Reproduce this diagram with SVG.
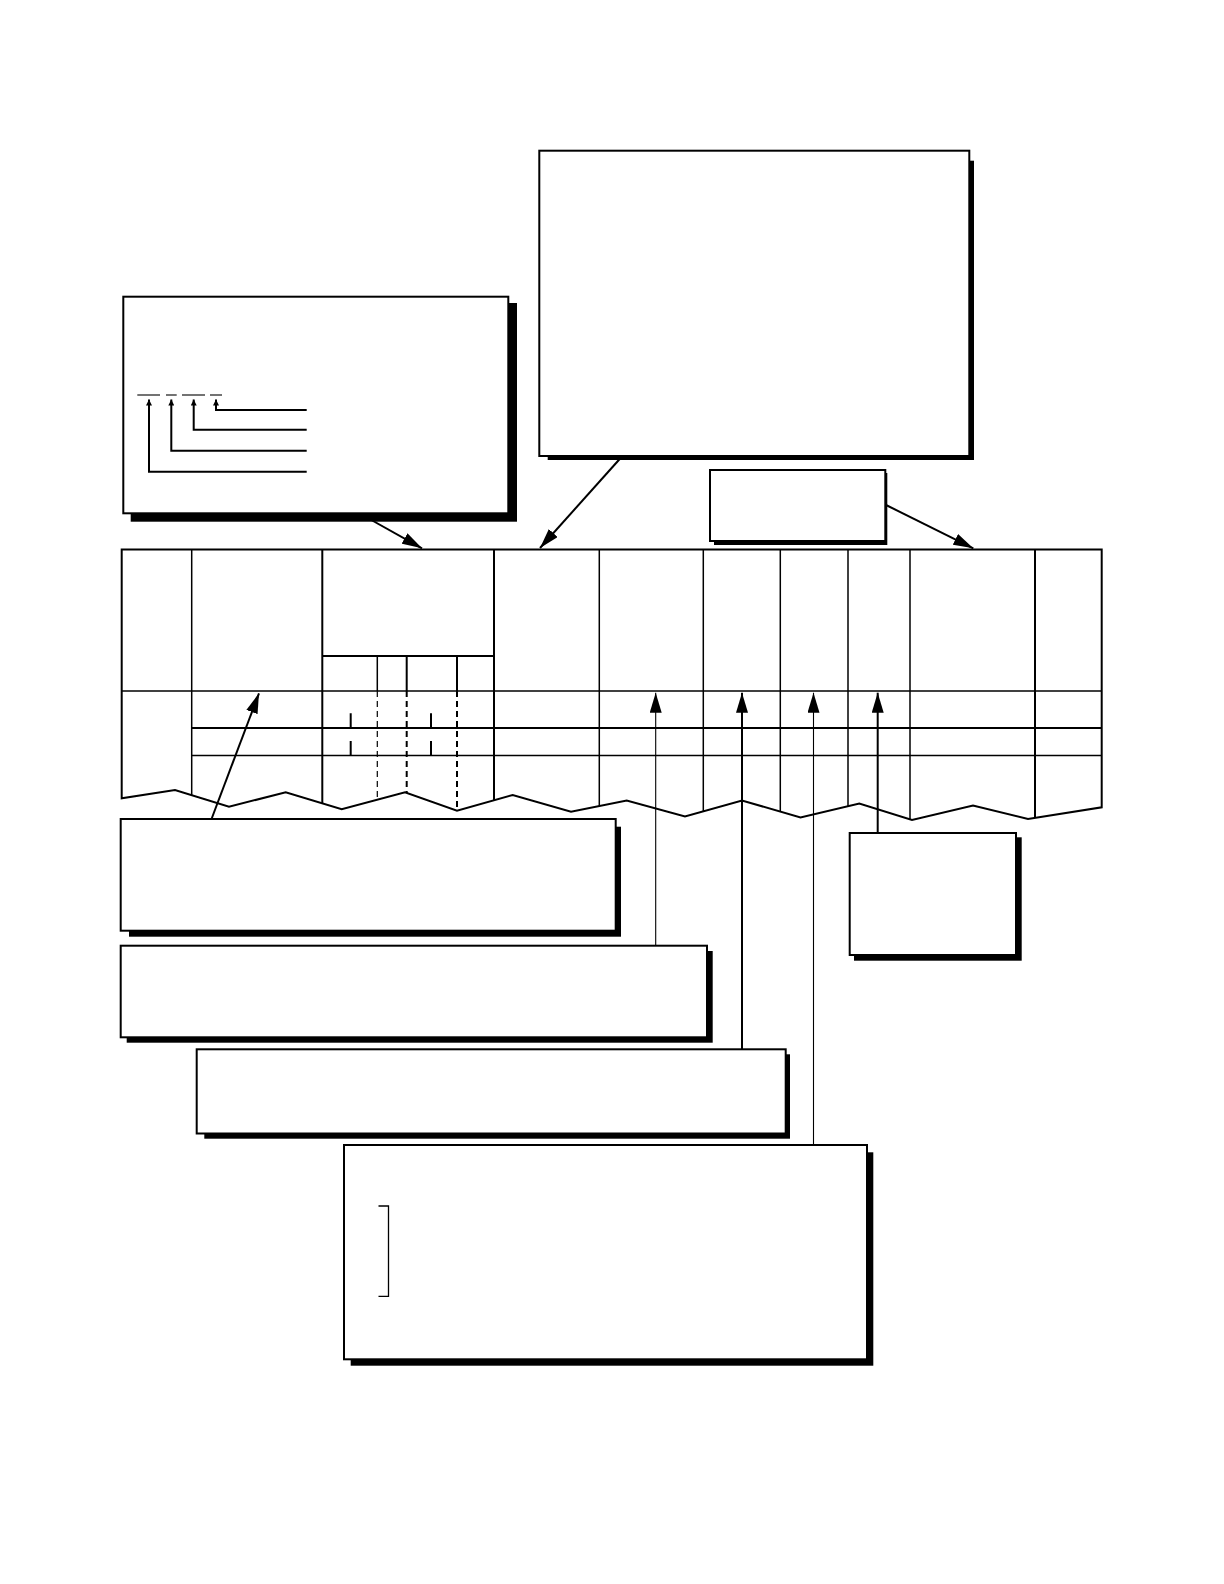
<svg xmlns="http://www.w3.org/2000/svg" width="1224" height="1584" viewBox="0 0 1224 1584">
<style>
.shadow{fill:#000;stroke:none}
.box{fill:#fff;stroke:#000;stroke-width:2}
.thin{stroke:#000;stroke-width:1.5;fill:none}
.thick{stroke:#000;stroke-width:2;fill:none}
.hair{stroke:#000;stroke-width:1.1;fill:none}
.dash1{stroke:#000;stroke-width:1.2;stroke-dasharray:6,4;fill:none}
.dash2{stroke:#000;stroke-width:2;stroke-dasharray:6,4;fill:none}
.arr{marker-end:url(#ah)}
.sarr{marker-end:url(#sh)}
</style>
<defs>
<marker id="ah" markerUnits="userSpaceOnUse" markerWidth="21" markerHeight="12" refX="20" refY="6" orient="auto"><path d="M0,0 L20,6 L0,12 z" fill="#000"/></marker>
<marker id="sh" markerUnits="userSpaceOnUse" markerWidth="7" markerHeight="6" refX="6" refY="3" orient="auto"><path d="M0,0 L6,3 L0,6 z" fill="#000"/></marker>
<clipPath id="tclip"><polygon points="121.7,549.5 1101.7,549.5 1101.7,807.3 1028,819 973,805.5 912,820 859.3,803.5 800.5,817.5 742,800.5 685,816.5 626.7,800.5 571,811.7 512.7,795 457,810.7 405,792.3 341.7,809.3 285.7,792.3 229,806.7 175,790 121.7,798.3"/></clipPath>
</defs>
<rect width="1224" height="1584" fill="#fff"/>

<g id="table">
<polygon points="121.7,549.5 1101.7,549.5 1101.7,807.3 1028,819 973,805.5 912,820 859.3,803.5 800.5,817.5 742,800.5 685,816.5 626.7,800.5 571,811.7 512.7,795 457,810.7 405,792.3 341.7,809.3 285.7,792.3 229,806.7 175,790 121.7,798.3" fill="#fff" stroke="none"/>
<g clip-path="url(#tclip)">
<line class="thin" x1="191.7" y1="549" x2="191.7" y2="830"/>
<line class="thick" x1="322.3" y1="549" x2="322.3" y2="830"/>
<line class="thick" x1="494" y1="549" x2="494" y2="830"/>
<line class="thin" x1="599.3" y1="549" x2="599.3" y2="830"/>
<line class="thin" x1="703.3" y1="549" x2="703.3" y2="830"/>
<line class="thin" x1="780.3" y1="549" x2="780.3" y2="830"/>
<line class="thin" x1="848" y1="549" x2="848" y2="830"/>
<line class="thin" x1="910" y1="549" x2="910" y2="830"/>
<line class="thick" x1="1035" y1="549" x2="1035" y2="830"/>
<line class="thin" x1="121.7" y1="691" x2="1101.7" y2="691"/>
<line class="thick" x1="191.7" y1="728" x2="1101.7" y2="728"/>
<line class="thin" x1="191.7" y1="755.5" x2="1101.7" y2="755.5"/>
<line class="thick" x1="322.3" y1="656" x2="494" y2="656"/>
<line class="thin" x1="377.3" y1="656" x2="377.3" y2="691"/>
<line class="thick" x1="406.7" y1="656" x2="406.7" y2="691"/>
<line class="thick" x1="457" y1="656" x2="457" y2="691"/>
<line class="dash1" x1="377.3" y1="691" x2="377.3" y2="830"/>
<line class="dash2" x1="406.7" y1="691" x2="406.7" y2="830"/>
<line class="dash2" x1="457" y1="691" x2="457" y2="830"/>
<line class="thick" x1="350.7" y1="713.3" x2="350.7" y2="728"/>
<line class="thick" x1="350.7" y1="741" x2="350.7" y2="755.5"/>
<line class="thick" x1="431" y1="713.3" x2="431" y2="728"/>
<line class="thick" x1="431" y1="741" x2="431" y2="755.5"/>
</g>
<polygon points="121.7,549.5 1101.7,549.5 1101.7,807.3 1028,819 973,805.5 912,820 859.3,803.5 800.5,817.5 742,800.5 685,816.5 626.7,800.5 571,811.7 512.7,795 457,810.7 405,792.3 341.7,809.3 285.7,792.3 229,806.7 175,790 121.7,798.3" fill="none" stroke="#000" stroke-width="2" stroke-linejoin="miter"/>
</g>

<g id="box-code">
<rect class="shadow" x="130.7" y="303" width="386.3" height="218.7"/>
<rect class="box" x="123.3" y="296.7" width="385" height="216.6"/>
<g>
<line class="hair" x1="137.3" y1="395" x2="160" y2="395"/>
<line class="hair" x1="166" y1="395" x2="176.7" y2="395"/>
<line class="hair" x1="182" y1="395" x2="205" y2="395"/>
<line class="hair" x1="210" y1="395" x2="222" y2="395"/>
<polyline class="thick sarr" points="306.7,410 216,410 216,399.5"/>
<polyline class="thick sarr" points="306.7,429.7 193.7,429.7 193.7,399.5"/>
<polyline class="thick sarr" points="306.7,450.7 171.3,450.7 171.3,399.5"/>
<polyline class="thick sarr" points="306.7,471.7 149,471.7 149,399.5"/>
</g>
</g>

<g id="box-top">
<rect class="shadow" x="547.7" y="160.7" width="426.3" height="299.3"/>
<rect class="box" x="539.3" y="150.7" width="430" height="305.3"/>
</g>

<g id="box-small">
<rect class="shadow" x="714" y="473" width="173.3" height="72"/>
<rect class="box" x="710" y="470" width="175.3" height="71"/>
</g>

<g id="box-3">
<rect class="shadow" x="129" y="826.7" width="492" height="110"/>
<rect class="box" x="120.7" y="819" width="495" height="111.7"/>
</g>

<g id="box-4">
<rect class="shadow" x="126.7" y="951" width="586" height="91.7"/>
<rect class="box" x="120.7" y="945.7" width="586.3" height="91.6"/>
</g>

<g id="box-5">
<rect class="shadow" x="204.3" y="1054.3" width="585.7" height="84.4"/>
<rect class="box" x="196.7" y="1049.3" width="589" height="84.2"/>
</g>

<g id="box-6">
<rect class="shadow" x="350.7" y="1152.3" width="522.6" height="213.4"/>
<rect class="box" x="344" y="1145" width="523" height="214.3"/>
<polyline fill="none" stroke="#000" stroke-width="1.3" points="378.5,1206 388.5,1206 388.5,1296.3 378.5,1296.3"/>
</g>

<g id="box-right">
<rect class="shadow" x="854" y="837.3" width="167.7" height="123.4"/>
<rect class="box" x="849.7" y="833" width="166.3" height="122"/>
</g>

<g id="connectors">
<line class="thick arr" x1="366" y1="517" x2="422" y2="548.3"/>
<line class="thick arr" x1="621.5" y1="457" x2="540" y2="548"/>
<line class="thick arr" x1="886" y1="505" x2="973.3" y2="548.3"/>
<line class="thick arr" x1="211.5" y1="819" x2="259" y2="693.3"/>
<line class="hair arr" x1="655.7" y1="945.7" x2="655.7" y2="692.7"/>
<line class="thick arr" x1="742" y1="1049.3" x2="742" y2="692.7"/>
<line class="hair arr" x1="813.5" y1="1145" x2="813.5" y2="692.7"/>
<line class="thick arr" x1="877.7" y1="833" x2="877.7" y2="692.7"/>
</g>
</svg>
